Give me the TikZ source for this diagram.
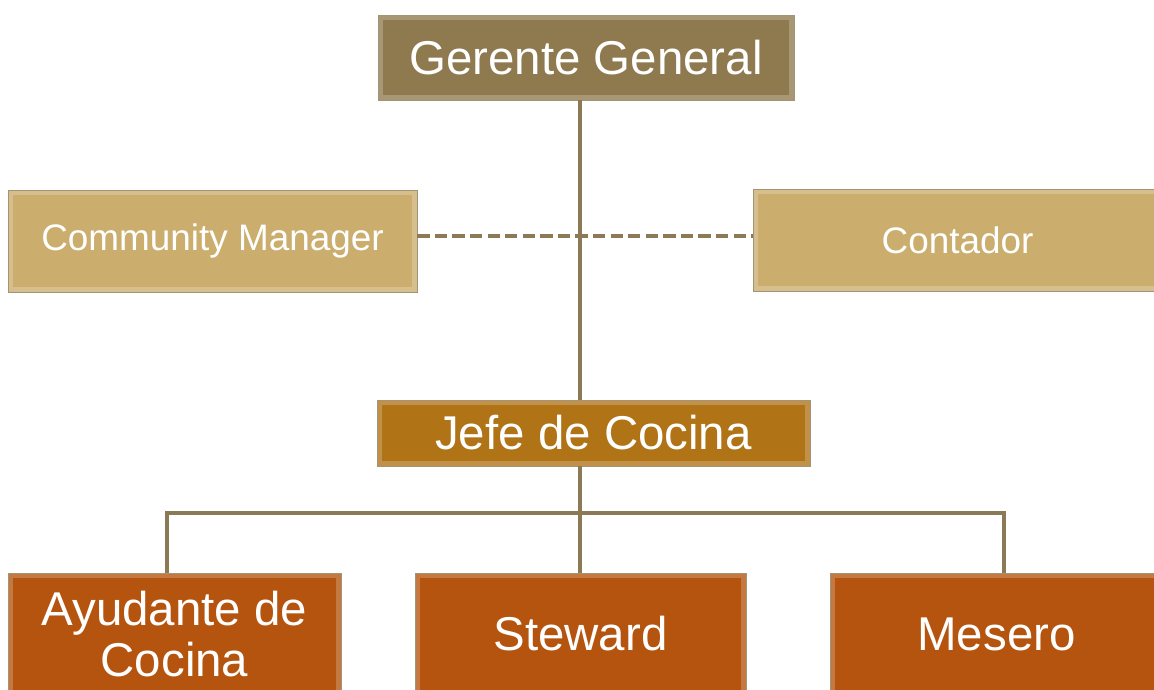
\documentclass[tikz,border=0pt]{standalone}
\usepackage{fontspec}
\setmainfont{Liberation Sans}
\usetikzlibrary{positioning}

\definecolor{gerente}{HTML}{8F7A4F}
\definecolor{staff}{HTML}{CBAE6E}
\definecolor{jefe}{HTML}{B07316}
\definecolor{cocina}{HTML}{B5540E}
\definecolor{linea}{HTML}{8B7A55}

\begin{document}
\begin{tikzpicture}[x=0.02cm,y=-0.02cm,semithick]

            \tikzstyle{cargo}=[rectangle,inner sep=0pt,text=white,align=center,draw=linea!80,thin,
                path picture={\draw[white,opacity=0.22,line width=6pt]
                    (path picture bounding box.south west) rectangle (path picture bounding box.north east);}]
            \tikzstyle{enlace}=[draw=linea,line width=2pt]
            \tikzstyle{apoyo}=[enlace,dash pattern=on 7pt off 3pt]

            \useasboundingbox (0,0) rectangle (1154,690);

            \node[cargo,fill=gerente,minimum width=8.32cm,minimum height=1.7cm,font=\fontsize{27}{30}\selectfont] (gg) at (586,57.5) {Gerente General};
            \node[cargo,fill=staff,minimum width=8.18cm,minimum height=2.04cm,font=\fontsize{21}{24}\selectfont] (cm) at (212.5,241) {Community Manager};
            \node[cargo,fill=staff,minimum width=8.18cm,minimum height=2.04cm,font=\fontsize{21}{24}\selectfont] (ct) at (957.5,240) {Contador};
            \node[cargo,fill=jefe,minimum width=8.66cm,minimum height=1.32cm,font=\fontsize{27}{30}\selectfont] (jc) at (593.5,433) {Jefe de Cocina};

            \node[cargo,fill=cocina,minimum width=6.66cm,minimum height=2.44cm,font=\fontsize{27}{29}\selectfont] (ay) at (174.5,634) {Ayudante de\\Cocina};
            \node[cargo,fill=cocina,minimum width=6.62cm,minimum height=2.44cm,font=\fontsize{27}{29}\selectfont] (st) at (580.5,634) {Steward};
            \node[cargo,fill=cocina,minimum width=6.66cm,minimum height=2.44cm,font=\fontsize{27}{29}\selectfont] (ms) at (996.5,634) {Mesero};

            \coordinate (bus) at (580,513);

            \draw[enlace] (gg.south -| bus) -- (jc.north -| bus);
            \draw[apoyo] (cm.east |- 0,236) -- (ct.west |- 0,236);
            \draw[enlace] (jc.south -| bus) -- (bus);
            \draw[enlace] (ay.north -| 167,0) -- (bus -| 167,0) -- (bus -| 1004,0) -- (ms.north -| 1004,0);
            \draw[enlace] (bus) -- (st.north -| bus);
        \end{tikzpicture}
\end{document}
